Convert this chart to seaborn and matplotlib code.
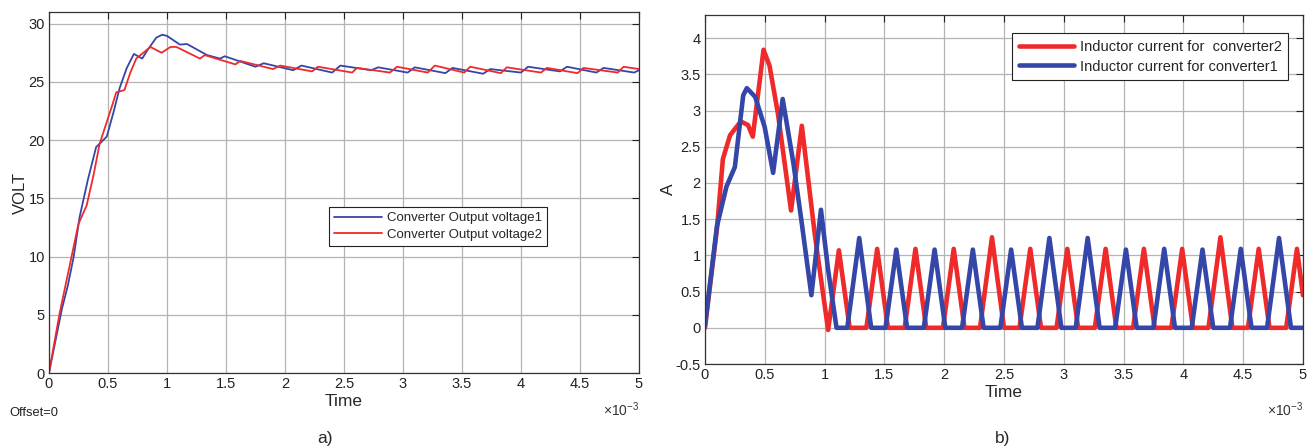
import matplotlib
matplotlib.use("Agg")
import matplotlib.pyplot as plt
import seaborn as sns
import pandas as pd

# a) converter output voltages (time in ms, axis shows x10^-3 s)
v1_time = [0, 0.11, 0.16, 0.21, 0.26, 0.33, 0.40, 0.49, 0.55, 0.60,
           0.66, 0.72, 0.79, 0.84, 0.91, 0.96, 1.00, 1.11, 1.17, 1.34,
           1.45, 1.49, 1.75, 1.82, 2.07, 2.14, 2.40, 2.47, 2.73, 2.79,
           3.04, 3.10, 3.36, 3.42, 3.68, 3.74, 4.00, 4.06, 4.33, 4.39,
           4.64, 4.70, 4.96, 5.00]
v1_volt = [0, 5.5, 7.5, 10.0, 13.4, 16.6, 19.4, 20.3, 22.5, 24.5,
           26.2, 27.4, 27.0, 27.8, 28.8, 29.05, 28.95, 28.2, 28.25, 27.3,
           27.0, 27.2, 26.3, 26.6, 26.0, 26.4, 25.8, 26.4, 26.0, 26.25,
           25.8, 26.25, 25.75, 26.2, 25.7, 26.1, 25.8, 26.3, 25.9, 26.3,
           25.8, 26.2, 25.8, 26.0]

v2_time = [0, 0.09, 0.25, 0.32, 0.38, 0.43, 0.54, 0.57, 0.64, 0.69,
           0.74, 0.86, 0.955, 1.03, 1.08, 1.28, 1.32, 1.58, 1.62, 1.90,
           1.96, 2.23, 2.28, 2.57, 2.61, 2.89, 2.95, 3.21, 3.27, 3.52,
           3.57, 3.83, 3.88, 4.17, 4.22, 4.48, 4.53, 4.82, 4.87, 5.00]
v2_volt = [0, 5.1, 12.8, 14.4, 17.1, 19.7, 23.1, 24.1, 24.3, 25.8,
           27.0, 28.0, 27.5, 28.0, 28.0, 27.0, 27.3, 26.5, 26.8, 26.1,
           26.4, 25.9, 26.3, 25.8, 26.2, 25.8, 26.3, 25.8, 26.4, 25.8,
           26.3, 25.75, 26.25, 25.8, 26.2, 25.75, 26.2, 25.8, 26.3, 26.1]

# b) inductor currents
i2_time = [0, 0.10, 0.15, 0.21, 0.30, 0.36, 0.40, 0.49, 0.54, 0.61,
           0.72, 0.81, 0.92, 1.03, 1.12, 1.21,
           1.35, 1.44, 1.53, 1.67, 1.76, 1.85, 1.99, 2.08, 2.17,
           2.30, 2.40, 2.50, 2.63, 2.72, 2.81, 2.94, 3.03, 3.12,
           3.26, 3.35, 3.44, 3.58, 3.67, 3.76, 3.90, 3.99, 4.08,
           4.21, 4.31, 4.41, 4.54, 4.63, 4.72, 4.86, 4.95, 5.00]
i2_amp = [0, 1.36, 2.33, 2.66, 2.85, 2.80, 2.64, 3.84, 3.62, 2.96,
          1.62, 2.79, 1.27, -0.03, 1.07, 0,
          0, 1.09, 0, 0, 1.09, 0, 0, 1.09, 0,
          0, 1.25, 0, 0, 1.09, 0, 0, 1.09, 0,
          0, 1.09, 0, 0, 1.09, 0, 0, 1.09, 0,
          0, 1.25, 0, 0, 1.09, 0, 0, 1.09, 0.45]

i1_time = [0, 0.10, 0.18, 0.25, 0.32, 0.35, 0.42, 0.50, 0.57, 0.65,
           0.74, 0.81, 0.89, 0.97, 1.03, 1.10,
           1.19, 1.29, 1.39, 1.51, 1.60, 1.69, 1.83, 1.92, 2.01,
           2.15, 2.24, 2.33, 2.47, 2.56, 2.65, 2.78, 2.88, 2.98,
           3.10, 3.20, 3.30, 3.43, 3.52, 3.61, 3.75, 3.84, 3.93,
           4.07, 4.16, 4.25, 4.39, 4.48, 4.57, 4.70, 4.80, 4.90, 5.00]
i1_amp = [0.03, 1.40, 1.95, 2.22, 3.21, 3.31, 3.19, 2.77, 2.14, 3.16,
          2.27, 1.44, 0.45, 1.63, 0.80, 0,
          0, 1.24, 0, 0, 1.08, 0, 0, 1.08, 0,
          0, 1.08, 0, 0, 1.08, 0, 0, 1.24, 0,
          0, 1.24, 0, 0, 1.08, 0, 0, 1.09, 0,
          0, 1.08, 0, 0, 1.09, 0, 0, 1.24, 0, 0]

time_ticks = [0, 0.5, 1, 1.5, 2, 2.5, 3, 3.5, 4, 4.5, 5]
time_labels = ['0', '0.5', '1', '1.5', '2', '2.5', '3', '3.5', '4', '4.5', '5']
volt_ticks = [0, 5, 10, 15, 20, 25, 30]
amp_ticks = [-0.5, 0, 0.5, 1, 1.5, 2, 2.5, 3, 3.5, 4]
amp_labels = ['-0.5', '0', '0.5', '1', '1.5', '2', '2.5', '3', '3.5', '4']

BLUE = '#3446a8'
RED = '#ee2a2a'

sns.set_style("white")
plt.rcParams['font.family'] = ['Liberation Sans', 'DejaVu Sans']
plt.rcParams['mathtext.fontset'] = 'custom'
plt.rcParams['mathtext.rm'] = 'Liberation Sans'
plt.rcParams['mathtext.it'] = 'Liberation Sans'
plt.rcParams['lines.solid_joinstyle'] = 'round'
plt.rcParams['lines.solid_capstyle'] = 'round'

fig = plt.figure(figsize=(13.12, 4.48), dpi=100)
ax1 = fig.add_axes([0.0373, 0.1674, 0.4497, 0.8058])
ax2 = fig.add_axes([0.5373, 0.1875, 0.4558, 0.779])

# left panel
sns.lineplot(x=v1_time, y=v1_volt, ax=ax1, color=BLUE, lw=1.3,
             sort=False, estimator=None, label='Converter Output voltage1')
sns.lineplot(x=v2_time, y=v2_volt, ax=ax1, color=RED, lw=1.3,
             sort=False, estimator=None, label='Converter Output voltage2')
ax1.set_xlim(0, 5)
ax1.set_ylim(0, 31)
ax1.set_yticks(volt_ticks)
ax1.set_yticklabels([str(v) for v in volt_ticks])
ax1.set_ylabel('VOLT', fontsize=12, labelpad=0)

# right panel
sns.lineplot(x=i2_time, y=i2_amp, ax=ax2, color=RED, lw=3.3,
             sort=False, estimator=None, label='Inductor current for  converter2')
sns.lineplot(x=i1_time, y=i1_amp, ax=ax2, color=BLUE, lw=3.3,
             sort=False, estimator=None, label='Inductor current for converter1')
ax2.set_xlim(0, 5)
ax2.set_ylim(-0.5, 4.32)
ax2.set_yticks(amp_ticks)
ax2.set_yticklabels(amp_labels)
ax2.set_ylabel('A', fontsize=12.5, labelpad=0)

for ax in (ax1, ax2):
    ax.set_xticks(time_ticks)
    ax.set_xticklabels(time_labels)
    ax.set_xlabel('Time', fontsize=12.5, labelpad=2)
    ax.grid(True, color='#b4b4b4', lw=0.9)
    ax.set_axisbelow(True)
    ax.tick_params(direction='in', top=True, right=True, length=5,
                   width=0.8, labelsize=10.5, colors='#222222', pad=3)
    for s in ax.spines.values():
        s.set_color('#333333')
        s.set_linewidth(0.9)

leg1 = ax1.legend(loc='upper left', bbox_to_anchor=(0.4746, 0.46),
                  frameon=True, fancybox=False, framealpha=1,
                  edgecolor='#222222', fontsize=9.5, handlelength=3.6,
                  borderpad=0.4, labelspacing=0.3, handletextpad=0.4,
                  borderaxespad=0)
leg1.get_frame().set_linewidth(0.8)

leg2 = ax2.legend(loc='upper left', bbox_to_anchor=(0.5134, 0.948),
                  frameon=True, fancybox=False, framealpha=1,
                  edgecolor='#222222', fontsize=10.5, handlelength=3.8,
                  borderpad=0.45, labelspacing=0.4, handletextpad=0.4,
                  borderaxespad=0)
leg2.get_frame().set_linewidth(0.8)

# extra annotations
fig.text(603 / 1312, 1 - 410 / 448, r'$\times10^{-3}$', fontsize=10, color='#333333', va='center')
fig.text(1267 / 1312, 1 - 410 / 448, r'$\times10^{-3}$', fontsize=10, color='#333333', va='center')
fig.text(9 / 1312, 1 - 413 / 448, 'Offset=0', fontsize=9.3, color='#222222', va='center')
fig.text(325 / 1312, 1 - 438 / 448, 'a)', fontsize=12.5, ha='center', va='center')
fig.text(1003 / 1312, 1 - 438 / 448, 'b)', fontsize=12.5, ha='center', va='center')

fig.savefig('out.png', dpi=100)
